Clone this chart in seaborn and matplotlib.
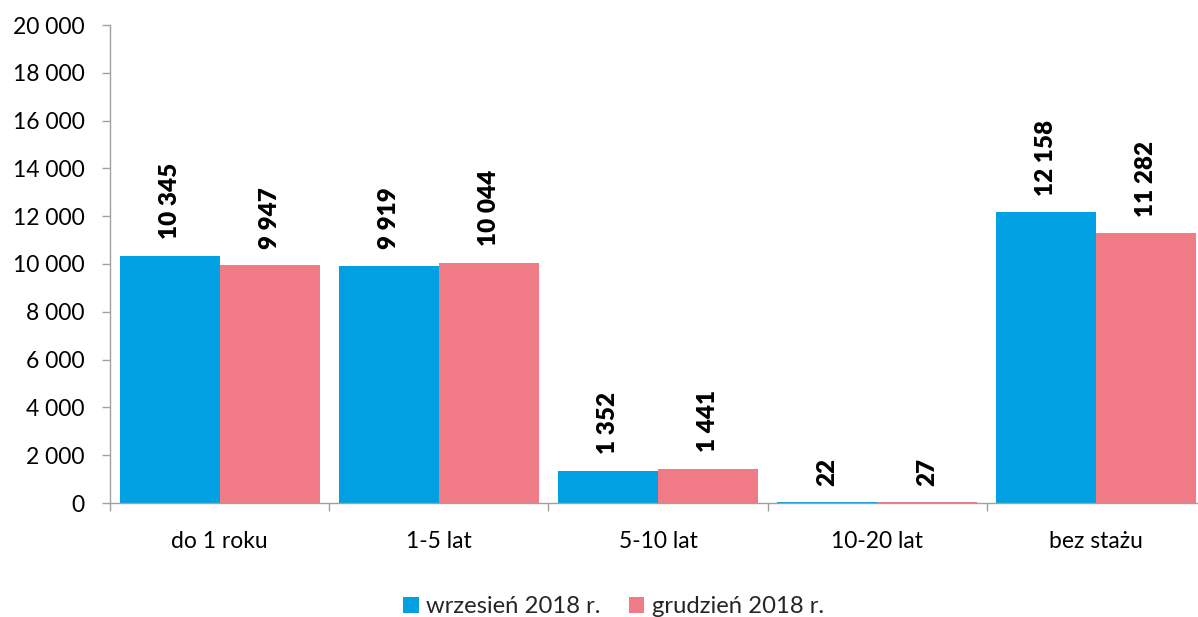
import matplotlib
matplotlib.use("Agg")
import matplotlib.pyplot as plt
import seaborn as sns
import pandas as pd
from matplotlib.ticker import FixedLocator, FuncFormatter

categories = ["do 1 roku", "1-5 lat", "5-10 lat", "10-20 lat", "bez stażu"]
series_names = ["wrzesień 2018 r.", "grudzień 2018 r."]
sep_values = [10345, 9919, 1352, 22, 12158]
dec_values = [9947, 10044, 1441, 27, 11282]
y_ticks = [0, 2000, 4000, 6000, 8000, 10000, 12000, 14000, 16000, 18000, 20000]
colors = ["#00A0E3", "#F07A85"]

df = pd.DataFrame({
    "kategoria": categories * 2,
    "seria": [series_names[0]] * len(categories) + [series_names[1]] * len(categories),
    "wartosc": sep_values + dec_values,
})

sns.set_theme(style="white")
plt.rcParams["font.family"] = ["Lato", "DejaVu Sans"]

fig = plt.figure(figsize=(11.98, 6.17), dpi=100)
ax = fig.add_axes([110 / 1198, 114 / 617, 1096 / 1198, 478 / 617])

sns.barplot(data=df, x="kategoria", y="wartosc", hue="seria", order=categories,
            hue_order=series_names, palette=colors, width=0.913, gap=0,
            saturation=1, ax=ax, errorbar=None, linewidth=0)

fmt = lambda v: f"{int(round(v)):,}".replace(",", " ")
for cont in ax.containers:
    ax.bar_label(cont, labels=[fmt(b.get_height()) for b in cont], rotation=90,
                 padding=12, fontsize=17.5, fontweight="heavy", color="black")

ax.set_xlim(-0.5, len(categories) - 0.5)
ax.set_ylim(0, 20000)
ax.yaxis.set_major_locator(FixedLocator(y_ticks))
ax.yaxis.set_major_formatter(FuncFormatter(lambda v, p: fmt(v)))

spine_col = "#A0A0A0"
for s in ["top", "right"]:
    ax.spines[s].set_visible(False)
for s in ["left", "bottom"]:
    ax.spines[s].set_color(spine_col)
    ax.spines[s].set_linewidth(1.0)

ax.set_xticks(range(len(categories)))
ax.set_xticklabels(categories)
ax.set_xticks([i - 0.5 for i in range(len(categories) + 1)], minor=True)
ax.tick_params(axis="x", which="major", length=0, pad=20, labelsize=16.5, labelcolor="black")
ax.tick_params(axis="x", which="minor", length=6, width=1, color=spine_col, direction="out", bottom=True)
ax.tick_params(axis="y", which="major", length=6, width=1, color=spine_col, direction="out",
               left=True, pad=12, labelsize=16.5, labelcolor="black")
ax.set_xlabel("")
ax.set_ylabel("")
ax.grid(False)

ax.legend_.remove()
handles, labels = ax.get_legend_handles_labels()
fig.legend(handles, labels, loc="lower center", bbox_to_anchor=(0.512, -0.035), ncol=2,
           frameon=False, fontsize=17.2, handlelength=0.65, handleheight=0.65,
           handletextpad=0.3, columnspacing=1.2)

fig.savefig("out.png", dpi=100)
